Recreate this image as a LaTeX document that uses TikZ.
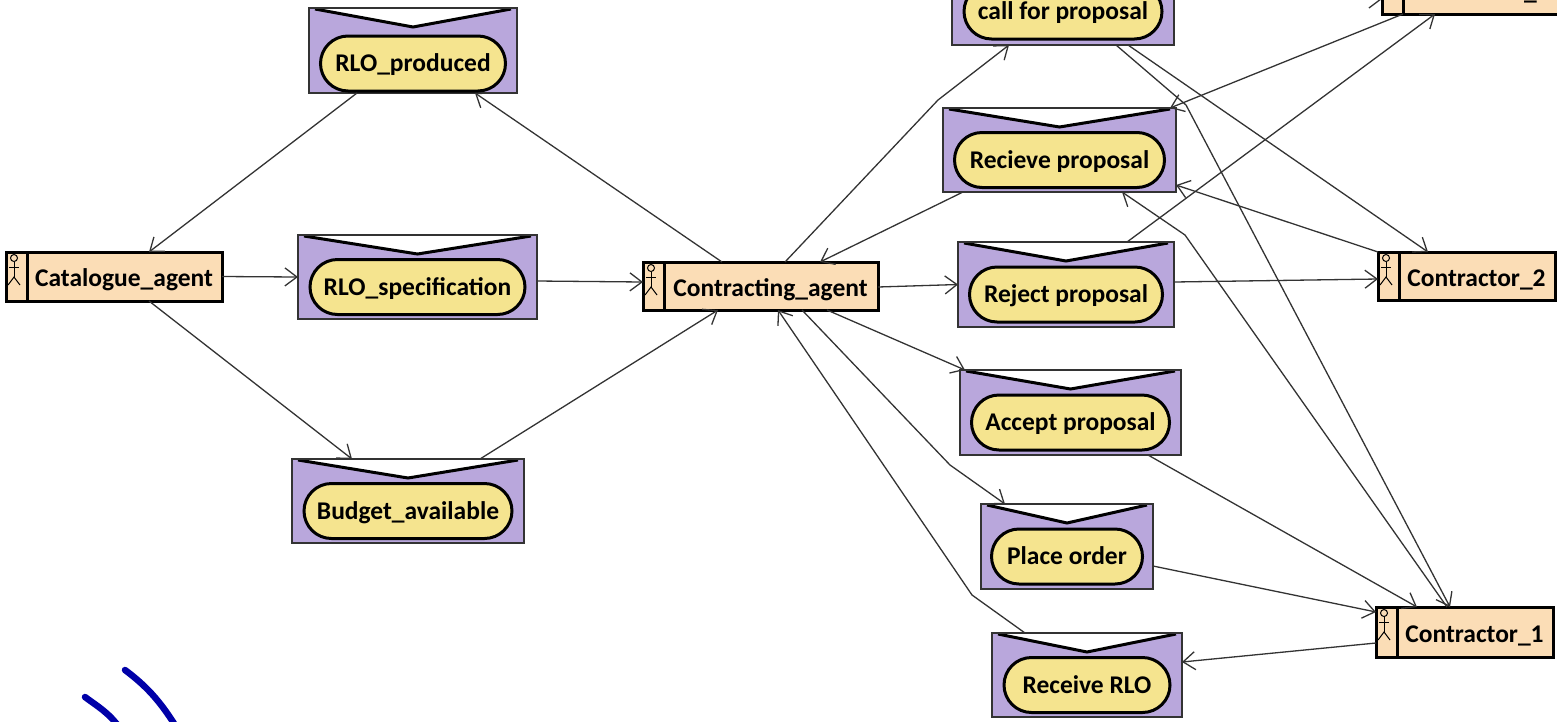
\documentclass[tikz,border=0pt]{standalone}
\usepackage{fontspec}
\setmainfont{Carlito}
\usetikzlibrary{arrows.meta,shapes.misc}
\definecolor{agentfill}{HTML}{FBDDB6}
\definecolor{msgfill}{HTML}{B9A7DC}
\definecolor{ovalfill}{HTML}{F5E48F}
\definecolor{linkcol}{HTML}{333333}
\definecolor{inkblue}{HTML}{0000A8}
\tikzset{
	agentbox/.style={draw=black, line width=3pt, fill=agentfill, inner sep=0pt, outer sep=0pt,
		text height=25pt, text depth=5pt,
		font=\fontsize{25.5}{27}\bfseries, execute at begin node={\hskip 20pt},
		path picture={
			\draw [line width=3pt] ([xshift=21]path picture bounding box.north west)
				-- ([xshift=21]path picture bounding box.south west);
			\draw [line width=1pt] ([xshift=8,yshift=-6]path picture bounding box.north west) circle (3.5pt);
			\draw [line width=1pt] ([xshift=8,yshift=-9.5]path picture bounding box.north west)
				-- ([xshift=8,yshift=-25]path picture bounding box.north west);
			\draw [line width=1pt] ([xshift=3,yshift=-15]path picture bounding box.north west)
				-- ([xshift=13,yshift=-15]path picture bounding box.north west);
			\draw [line width=1pt] ([xshift=2,yshift=-33]path picture bounding box.north west)
				-- ([xshift=8,yshift=-25]path picture bounding box.north west)
				-- ([xshift=14,yshift=-33]path picture bounding box.north west);
		}},
	msgbox/.style={draw=linkcol, line width=2pt, fill=msgfill, inner sep=0pt, outer sep=0pt,
		path picture={
			\fill [white] (path picture bounding box.north west) -- ([yshift=-19]path picture bounding box.north)
				-- (path picture bounding box.north east) -- cycle;
			\draw [line width=3pt, black] ([xshift=6,yshift=-1]path picture bounding box.north west)
				-- ([yshift=-19]path picture bounding box.north)
				-- ([xshift=-6,yshift=-1]path picture bounding box.north east);
		}},
	msgoval/.style={rounded rectangle, draw=black, line width=3pt, fill=ovalfill, inner sep=0pt,
		text height=21pt, text depth=5pt,
		minimum height=55pt, font=\fontsize{25.5}{27}\bfseries},
	link/.style={draw=linkcol, line width=1.3pt, -{Straight Barb[length=12pt,width=18pt,line width=1.3pt]}}
}
\begin{document}
\begin{tikzpicture}[x=1pt,y=-1pt]
	\useasboundingbox (0,0) rectangle (1557,721);
	\clip (0,0) rectangle (1557,721);
	% agents
	\node [agentbox, minimum width=216pt, minimum height=49pt](Catalogue) at (114,276.5) {Catalogue\_agent};
	\node [agentbox, minimum width=235pt, minimum height=48pt](Contracting) at (760.5,286) {Contracting\_agent};
	\node [agentbox, minimum width=177pt, minimum height=49pt](ContractorThree) at (1470.5,-10.5) {Contractor\_3};
	\node [agentbox, minimum width=177pt, minimum height=48pt](ContractorTwo) at (1466.5,276) {Contractor\_2};
	\node [agentbox, minimum width=177pt, minimum height=50pt](ContractorOne) at (1464.5,632) {Contractor\_1};
	% messages
	\node [msgbox, minimum width=208pt, minimum height=85pt](RLOproduced) at (413,50.5) {};
	\node [msgoval, minimum width=185pt](RLOproducedOval) at ([yshift=-13]RLOproduced.center) {RLO\_produced};
	\node [msgbox, minimum width=239pt, minimum height=84pt](RLOspec) at (417.5,277) {};
	\node [msgoval, minimum width=215pt](RLOspecOval) at ([yshift=-10]RLOspec.center) {RLO\_specification};
	\node [msgbox, minimum width=232pt, minimum height=84pt](BudgetAvail) at (408,501) {};
	\node [msgoval, minimum width=208pt](BudgetAvailOval) at ([yshift=-10]BudgetAvail.center) {Budget\_available};
	\node [msgbox, minimum width=222pt, minimum height=85pt](CallProposal) at (1063,2.5) {};
	\node [msgoval, minimum width=198pt](CallProposalOval) at ([yshift=-9]CallProposal.center) {call for proposal};
	\node [msgbox, minimum width=233pt, minimum height=84pt](RecieveProposal) at (1059.5,150) {};
	\node [msgoval, minimum width=210pt](RecieveProposalOval) at ([yshift=-10]RecieveProposal.center) {Recieve proposal};
	\node [msgbox, minimum width=216pt, minimum height=85pt](RejectProposal) at (1066,284.5) {};
	\node [msgoval, minimum width=193pt](RejectProposalOval) at ([yshift=-10]RejectProposal.center) {Reject proposal};
	\node [msgbox, minimum width=221pt, minimum height=85pt](AcceptProposal) at (1070.5,412.5) {};
	\node [msgoval, minimum width=198pt](AcceptProposalOval) at ([yshift=-10]AcceptProposal.center) {Accept proposal};
	\node [msgbox, minimum width=172pt, minimum height=85pt](PlaceOrder) at (1067,546.5) {};
	\node [msgoval, minimum width=151pt](PlaceOrderOval) at ([yshift=-10]PlaceOrder.center) {Place order};
	\node [msgbox, minimum width=190pt, minimum height=84pt](ReceiveRLO) at (1087,675) {};
	\node [msgoval, minimum width=166pt](ReceiveRLOOval) at ([yshift=-10]ReceiveRLO.center) {Receive RLO};
	% bends
	\coordinate (callbend) at (938,100);
	\coordinate (placebend) at (950,465);
	\coordinate (rlobend) at (972,595);
	\coordinate (contractorbend) at (1186,105);
	\coordinate (recievebend) at (1185,235);
	% links
	\draw [link]([xshift=48]RLOproduced.south west)--([xshift=143]Catalogue.north west);
	\draw [link](Catalogue.east)--(RLOspec.west);
	\draw [link]([xshift=143]Catalogue.south west)--([xshift=60]BudgetAvail.north west);
	\draw [link]([yshift=-4]RLOspec.east)--([yshift=4]Contracting.west);
	\draw [link]([xshift=188]BudgetAvail.north west)--([xshift=75]Contracting.south west);
	\draw [link]([xshift=79]Contracting.north west)--([xshift=166]RLOproduced.south west);
	\draw [link]([xshift=142]Contracting.north west)--(callbend)--([xshift=57]CallProposal.south west);
	\draw [link]([xshift=20]RecieveProposal.south west)--([xshift=177]Contracting.north west);
	\draw [link]([yshift=-1]Contracting.east)--(RejectProposal.west);
	\draw [link]([xshift=184]Contracting.south west)--([xshift=5]AcceptProposal.north west);
	\draw [link]([xshift=159]Contracting.south west)--(placebend)--([xshift=24]PlaceOrder.north west);
	\draw [link]([xshift=33]ReceiveRLO.north west)--(rlobend)--([xshift=135]Contracting.south west);
	\draw [link]([yshift=3.5]CallProposal.east)--([yshift=-9.5]ContractorThree.west);
	\draw [link]([xshift=21]ContractorThree.south west)--([xshift=-6]RecieveProposal.north east);
	\draw [link]([xshift=169]RejectProposal.north west)--([xshift=53]ContractorThree.south west);
	\draw [link]([xshift=176]CallProposal.south west)--([xshift=50]ContractorTwo.north west);
	\draw [link](ContractorTwo.north west)--([yshift=7]RecieveProposal.south east);
	\draw [link]([yshift=2.5]RejectProposal.east)--([yshift=-3]ContractorTwo.west);
	\draw [link]([xshift=188]AcceptProposal.south west)--([xshift=41]ContractorOne.north west);
	\draw [link]([yshift=-19.5]PlaceOrder.east)--([yshift=20]ContractorOne.west);
	\draw [link]([yshift=-11]ContractorOne.west)--([yshift=13]ReceiveRLO.east);
	\draw [link]([xshift=164]CallProposal.south west)--(contractorbend)--([xshift=74]ContractorOne.north west);
	\draw [link]([xshift=71]ContractorOne.north west)--(recievebend)--([xshift=179]RecieveProposal.south west);
	% pen strokes in the corner
	\draw [inkblue, line width=6.5pt, line cap=round] (85,697) .. controls (97,706) and (108,712) .. (119,727);
	\draw [inkblue, line width=6.5pt, line cap=round] (125,670) .. controls (145,685) and (160,700) .. (178,730);
\end{tikzpicture}
\end{document}
